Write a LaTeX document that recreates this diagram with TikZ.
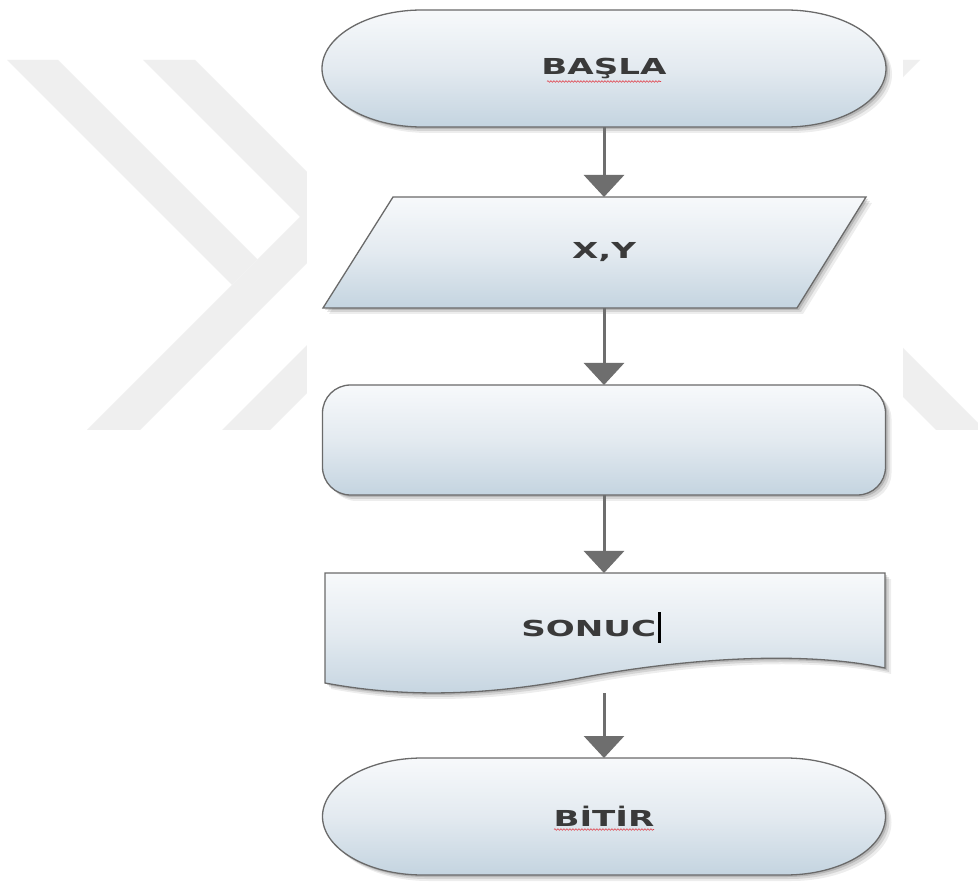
\documentclass[tikz,border=0pt]{standalone}
\usepackage{fontspec}
\usetikzlibrary{arrows.meta,calc,backgrounds,decorations.pathmorphing}
\newfontfamily\labelfont[FakeStretch=1.55]{DejaVu Sans}

\definecolor{wmgray}{HTML}{EFEFEF}
\definecolor{edgegray}{HTML}{6A6A6A}
\definecolor{arrowgray}{HTML}{6E6E6E}
\definecolor{shadetop}{HTML}{F7F9FB}
\definecolor{shademid}{HTML}{E3EAF0}
\definecolor{shadebot}{HTML}{C4D4E0}
\definecolor{labelgray}{HTML}{3A3A3A}
\definecolor{spellred}{HTML}{E0404A}

\tikzset{
  anchorbox/.style={rectangle, inner sep=0pt, outer sep=0pt,
    font=\labelfont\bfseries\fontsize{22}{26}\selectfont, text=labelgray},
  lbl/.style={inner sep=0pt, font=\labelfont\bfseries\fontsize{22}{26}\selectfont, text=labelgray},
  flowshape/.style={draw=edgegray, line width=1.3pt,
    top color=shadetop, bottom color=shadebot, middle color=shademid,
    preaction={fill=black, opacity=0.07, transform canvas={shift={(6pt,-6pt)}}},
    preaction={fill=black, opacity=0.10, transform canvas={shift={(4pt,-4pt)}}},
    preaction={fill=black, opacity=0.14, transform canvas={shift={(2pt,-2pt)}}}},
  flowarrow/.style={draw=arrowgray, line width=3pt, -{Triangle[width=40pt,length=22pt]}},
  squiggle/.style={draw=spellred, line width=0.6pt, decorate,
    decoration={snake, amplitude=0.8pt, segment length=3pt}},
  % terminal outline with elliptic ends, built on a node's anchors
  stadium/.style={insert path={
    ($(#1.north west)+(100,0)$) -- ($(#1.north east)+(-100,0)$)
    .. controls ($(#1.north east)+(-45,0)$) and ($(#1.east)+(0,-32)$) .. (#1.east)
    .. controls ($(#1.east)+(0,32)$) and ($(#1.south east)+(-45,0)$) .. ($(#1.south east)+(-100,0)$)
    -- ($(#1.south west)+(100,0)$)
    .. controls ($(#1.south west)+(45,0)$) and ($(#1.west)+(0,32)$) .. (#1.west)
    .. controls ($(#1.west)+(0,-32)$) and ($(#1.north west)+(45,0)$) .. cycle}},
}

\begin{document}
\begin{tikzpicture}[x=1pt,y=-1pt]
\useasboundingbox (0,0) rectangle (978,882);

% flowchart nodes
\node[anchorbox, minimum width=564pt, minimum height=117pt] (start) at (604,68.5) {BAŞLA};
\node[anchorbox, minimum width=543pt, minimum height=111pt] (io) at (604,252.5) {X,Y};
\node[anchorbox, minimum width=563pt, minimum height=110pt] (proc) at (604,440) {};
\node[anchorbox, minimum width=560pt, minimum height=108pt] (doc) at (605,627) {};
\node[lbl] (doctext) at ($(doc.center)+(-14,0)$) {SONUC\hspace{2pt}{\color{black}\rule[-6pt]{2.6pt}{31pt}}};
\node[anchorbox, minimum width=563pt, minimum height=117pt] (end) at (604,816.5) {BİTİR};

\begin{scope}[on background layer]
  \fill[white] (0,0) rectangle (978,882);
  % watermark bands
  \fill[wmgray] (7,60) -- (58,60) -- (257.5,259.5) -- (232,285) -- cycle;
  \fill[wmgray] (87,430) -- (140,430) -- (400,170) -- (347,170) -- cycle;
  \fill[wmgray] (143,60) -- (195,60) -- (400,265) -- (348,265) -- cycle;
  \fill[wmgray] (222,430) -- (270,430) -- (400,300) -- (352,300) -- cycle;
  \fill[wmgray] (800,294) -- (849,294) -- (985,430) -- (936,430) -- cycle;
  \fill[wmgray] (868,60) -- (920,60) -- (800,180) -- (748,180) -- cycle;
  \fill[white] (307,0) rectangle (903,882);

  % shape outlines
  \path[flowshape, stadium=start];
  \path[flowshape] ($(io.center)+(-211,-55.5)$) -- ($(io.center)+(262,-55.5)$)
        -- ($(io.center)+(193,55.5)$) -- ($(io.center)+(-281,55.5)$) -- cycle;
  \path[flowshape, rounded corners=28pt] (proc.north west) rectangle (proc.south east);
  \path[flowshape] (doc.north west) -- (doc.north east) -- ($(doc.north east)+(0,95)$)
        .. controls ($(doc.north east)+(-85,77)$) and ($(doc.north west)+(355,86)$) .. ($(doc.north west)+(255,105)$)
        .. controls ($(doc.north west)+(155,124)$) and ($(doc.north west)+(75,124)$) .. ($(doc.north west)+(0,110)$)
        -- cycle;
  \path[flowshape, stadium=end];
\end{scope}

% spell-check marks under the terminal labels
\draw[squiggle] ($(start.center)+(-57,13)$) -- ($(start.center)+(57,13)$);
\draw[squiggle] ($(end.center)+(-50,13)$) -- ($(end.center)+(50,13)$);

% connectors
\draw[flowarrow] (start.south) -- (io.north);
\draw[flowarrow] (io.south) -- (proc.north);
\draw[flowarrow] (proc.south) -- (proc.south |- doc.north);
\draw[flowarrow] ($(doc.south -| end.north)+(0,12)$) -- (end.north);
\end{tikzpicture}
\end{document}
